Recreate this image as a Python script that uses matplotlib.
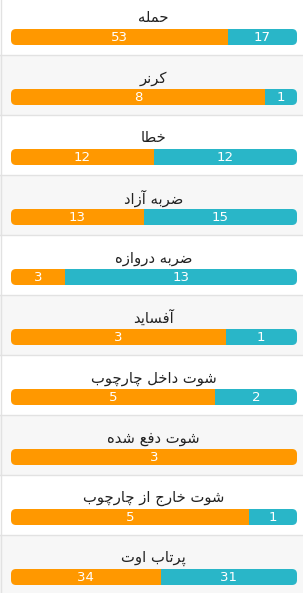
import matplotlib
matplotlib.use("Agg")
import matplotlib.pyplot as plt
from matplotlib.patches import FancyBboxPatch, Rectangle

categories = ["حمله", "کرنر", "خطا", "ضربه آزاد", "ضربه دروازه", "آفساید",
              "شوت داخل چارچوب", "شوت دفع شده", "شوت خارج از چارچوب", "پرتاب اوت"]
home_values = [53, 8, 12, 13, 3, 3, 5, 3, 5, 34]
away_values = [17, 1, 12, 15, 13, 1, 2, 0, 1, 31]

ORANGE = "#FF9800"
TEAL = "#29B6C8"

# --- minimal Persian shaping (presentation forms + visual order) ---
FORMS = {
    "ا": (0xFE8D, 0xFE8E, None, None), "آ": (0xFE81, 0xFE82, None, None),
    "ب": (0xFE8F, 0xFE90, 0xFE91, 0xFE92), "پ": (0xFB56, 0xFB57, 0xFB58, 0xFB59),
    "ت": (0xFE95, 0xFE96, 0xFE97, 0xFE98), "ث": (0xFE99, 0xFE9A, 0xFE9B, 0xFE9C),
    "ج": (0xFE9D, 0xFE9E, 0xFE9F, 0xFEA0), "چ": (0xFB7A, 0xFB7B, 0xFB7C, 0xFB7D),
    "ح": (0xFEA1, 0xFEA2, 0xFEA3, 0xFEA4), "خ": (0xFEA5, 0xFEA6, 0xFEA7, 0xFEA8),
    "د": (0xFEA9, 0xFEAA, None, None), "ذ": (0xFEAB, 0xFEAC, None, None),
    "ر": (0xFEAD, 0xFEAE, None, None), "ز": (0xFEAF, 0xFEB0, None, None),
    "س": (0xFEB1, 0xFEB2, 0xFEB3, 0xFEB4), "ش": (0xFEB5, 0xFEB6, 0xFEB7, 0xFEB8),
    "ص": (0xFEB9, 0xFEBA, 0xFEBB, 0xFEBC), "ض": (0xFEBD, 0xFEBE, 0xFEBF, 0xFEC0),
    "ط": (0xFEC1, 0xFEC2, 0xFEC3, 0xFEC4), "ع": (0xFEC9, 0xFECA, 0xFECB, 0xFECC),
    "ف": (0xFED1, 0xFED2, 0xFED3, 0xFED4), "ق": (0xFED5, 0xFED6, 0xFED7, 0xFED8),
    "ک": (0xFB8E, 0xFB8F, 0xFB90, 0xFB91), "گ": (0xFB92, 0xFB93, 0xFB94, 0xFB95),
    "ل": (0xFEDD, 0xFEDE, 0xFEDF, 0xFEE0), "م": (0xFEE1, 0xFEE2, 0xFEE3, 0xFEE4),
    "ن": (0xFEE5, 0xFEE6, 0xFEE7, 0xFEE8), "و": (0xFEED, 0xFEEE, None, None),
    "ه": (0xFEE9, 0xFEEA, 0xFEEB, 0xFEEC), "ی": (0xFBFC, 0xFBFD, 0xFBFE, 0xFBFF),
}


def shape(text):
    out = []
    n = len(text)
    for i, ch in enumerate(text):
        if ch not in FORMS:
            out.append(ch)
            continue
        iso, fin, ini, med = FORMS[ch]
        prev = text[i - 1] if i > 0 else None
        nxt = text[i + 1] if i < n - 1 else None
        jp = prev in FORMS and FORMS[prev][2] is not None
        jn = ini is not None and nxt in FORMS
        if jp and jn:
            c = med
        elif jp:
            c = fin
        elif jn:
            c = ini
        else:
            c = iso
        out.append(chr(c))
    return "".join(reversed(out))


W, H = 303, 593
fig = plt.figure(figsize=(W / 100, H / 100), dpi=100)
ax = fig.add_axes([0, 0, 1, 1])
ax.set_xlim(0, W)
ax.set_ylim(H, 0)
ax.axis("off")

row_h = 60
first_sep = 55
bar_x0, bar_x1 = 11, 297
bar_w = bar_x1 - bar_x0
bar_h = 16

for i, (cat, a, b) in enumerate(zip(categories, home_values, away_values)):
    top = 0 if i == 0 else first_sep + (i - 1) * row_h
    bottom = first_sep + i * row_h if i < len(categories) - 1 else H
    if i % 2 == 1:
        ax.add_patch(Rectangle((0, top), W, bottom - top, facecolor="#F7F7F7",
                               edgecolor="none", zorder=0))
    if i > 0:
        ax.plot([0, W], [top, top], color="#E2E2E2", lw=1, zorder=1)
    yc = 37 + i * row_h
    ax.text(W / 2 + 2, yc - 19, shape(cat), ha="center", va="center",
            fontsize=10.6, color="#222222", family="DejaVu Sans")
    total = a + b
    wa = bar_w * a / total
    wb = bar_w * b / total
    clip = FancyBboxPatch((bar_x0 + 5, yc - bar_h / 2 + 5), bar_w - 10, bar_h - 10,
                          boxstyle="round,pad=5", transform=ax.transData,
                          facecolor="none", edgecolor="none")
    ax.add_patch(clip)
    bars = ax.barh([yc, yc], [wa, wb], left=[bar_x0, bar_x0 + wa], height=bar_h,
                   color=[ORANGE, TEAL], zorder=2)
    for p in bars:
        p.set_clip_path(clip)
    ax.text(bar_x0 + wa / 2, yc + 0.5, str(a), ha="center", va="center",
            fontsize=9.6, color="white", zorder=3)
    if b > 0:
        ax.text(bar_x0 + wa + wb / 2, yc + 0.5, str(b), ha="center", va="center",
                fontsize=9.6, color="white", zorder=3)

ax.plot([1, 1], [0, H], color="#E2E2E2", lw=1, zorder=1)

fig.savefig("out.png", dpi=100)
